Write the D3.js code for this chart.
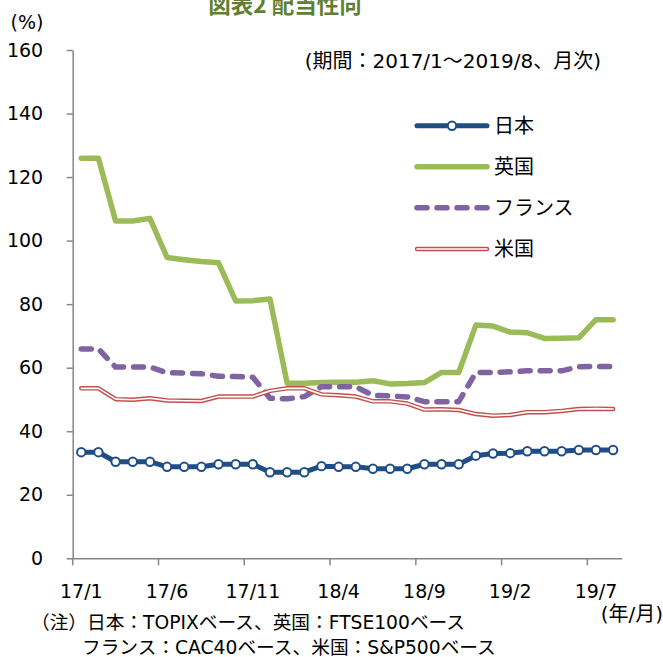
<!DOCTYPE html>
<html><head><meta charset="utf-8">
<script src="https://cdn.jsdelivr.net/npm/d3@7"></script>
<style>
body{margin:0;background:#fff}
svg{display:block}
text{font-family:"DejaVu Sans","Noto Sans CJK JP",sans-serif;fill:#000}
</style></head>
<body><svg id="c" width="663" height="657"></svg>
<script>
const categories = ["17/1","17/2","17/3","17/4","17/5","17/6","17/7","17/8","17/9","17/10","17/11","17/12",
"18/1","18/2","18/3","18/4","18/5","18/6","18/7","18/8","18/9","18/10","18/11","18/12",
"19/1","19/2","19/3","19/4","19/5","19/6","19/7","19/8"];
const tickLabels = ["17/1","17/6","17/11","18/4","18/9","19/2","19/7"];
const yTicks = [0,20,40,60,80,100,120,140,160];
const japan = [33.4,33.4,30.4,30.4,30.4,28.8,28.8,28.8,29.6,29.6,29.6,27.1,27.1,27.1,29.0,
28.8,28.8,28.2,28.2,28.2,29.6,29.6,29.6,32.3,33.0,33.1,33.7,33.7,33.7,34.1,34.1,34.1];
const uk = [125.9,125.9,106.2,106.2,107.0,94.7,94.0,93.4,93.0,81.0,81.1,81.6,55.1,55.1,55.3,55.4,
55.4,55.9,54.9,55.0,55.3,58.5,58.5,73.4,73.1,71.2,71.0,69.2,69.3,69.4,75.1,75.1];
const france = [65.9,65.9,60.2,60.2,60.2,58.4,58.3,58.1,57.3,57.2,57.0,50.4,50.2,50.9,54.0,54.0,
54.0,51.3,51.1,50.8,49.3,49.3,49.3,58.5,58.5,58.7,59.0,59.0,59.0,60.3,60.4,60.4];
const us = [53.5,53.5,50.1,49.9,50.4,49.7,49.6,49.5,50.9,50.9,50.9,52.7,53.5,53.5,51.6,51.3,
50.9,49.4,49.4,48.7,46.8,46.9,46.7,45.4,44.9,45.1,46.0,46.0,46.4,47.0,47.1,47.0];
const seriesNames = ["日本","英国","フランス","米国"];

const svg = d3.select("#c");
const x = d3.scaleBand().domain(categories).range([72.7,621.7]).padding(0);
const y = d3.scaleLinear().domain([0,160]).range([558.3,50]);
const bw = x.bandwidth();
const cx = (d,i)=>x(categories[i])+bw/2;
const axisColor = "#868686";

// title
svg.append("text").attr("x",285).attr("y",12.5).attr("text-anchor","middle")
  .style("font-size","22.5px").style("font-weight","bold").style("fill","#5f7f32")
  .style("font-family","'Noto Sans CJK JP',sans-serif").text("図表2 配当性向");
svg.append("text").attr("x",27).attr("y",29).attr("text-anchor","middle").style("font-size","19px").text("(%)");
svg.append("text").attr("x",601).attr("y",68).attr("text-anchor","end").style("font-size","20px")
  .text("(期間：2017/1～2019/8、月次)");

// y axis
const ya = svg.append("g").attr("transform","translate(72.7,0)")
  .call(d3.axisLeft(y).tickValues(yTicks).tickSize(6).tickSizeOuter(0).tickPadding(23.5));
ya.select(".domain").attr("stroke",axisColor).attr("stroke-width",1.5);
ya.selectAll(".tick line").attr("stroke",axisColor).attr("stroke-width",1.5);
ya.selectAll(".tick text").style("font-size","19px").style("font-family","'DejaVu Sans',sans-serif").attr("fill","#000");

// x axis
const xa = svg.append("g").attr("transform","translate(0,558.3)")
  .call(d3.axisBottom(x).tickValues(tickLabels).tickSize(7).tickSizeOuter(0).tickPadding(19));
xa.select(".domain").attr("stroke",axisColor).attr("stroke-width",1.5);
xa.selectAll(".tick line").attr("stroke",axisColor).attr("stroke-width",1.5).attr("x1",-bw/2).attr("x2",-bw/2);
xa.selectAll(".tick text").style("font-size","19px").style("font-family","'DejaVu Sans',sans-serif").attr("fill","#000");

const line = d3.line().x(cx).y(d=>y(d));
const g = svg.append("g");
// Japan
g.append("path").datum(japan).attr("d",line).attr("fill","none").attr("stroke","#1f4e86")
  .attr("stroke-width",5).attr("stroke-linejoin","round");
g.selectAll("circle.jp").data(japan).join("circle").attr("class","jp")
  .attr("cx",cx).attr("cy",d=>y(d)).attr("r",4.2).attr("fill","#fff").attr("stroke","#1f4e86").attr("stroke-width",2);
// UK
g.append("path").datum(uk).attr("d",line).attr("fill","none").attr("stroke","#9bbb59")
  .attr("stroke-width",5.5).attr("stroke-linejoin","round").attr("stroke-linecap","round");
// France
g.append("path").datum(france).attr("d",line).attr("fill","none").attr("stroke","#8064a2")
  .attr("stroke-width",5.5).attr("stroke-dasharray","10,10").attr("stroke-linecap","round").attr("stroke-linejoin","round");
// US
g.append("path").datum(us).attr("d",line).attr("fill","none").attr("stroke","#c0504d")
  .attr("stroke-width",4.5).attr("stroke-linejoin","round").attr("stroke-linecap","round");
g.append("path").datum(us).attr("d",line).attr("fill","none").attr("stroke","#fff")
  .attr("stroke-width",1.6).attr("stroke-linejoin","round").attr("stroke-linecap","round");

// legend
const ly = [125.7,166.7,207.7,249];
const lx0 = 417, lx1 = 487;
const lg = svg.append("g");
lg.append("line").attr("x1",lx0).attr("x2",lx1).attr("y1",ly[0]).attr("y2",ly[0]).attr("stroke","#1f4e86").attr("stroke-width",5).attr("stroke-linecap","round");
lg.append("circle").attr("cx",(lx0+lx1)/2).attr("cy",ly[0]).attr("r",4.2).attr("fill","#fff").attr("stroke","#1f4e86").attr("stroke-width",2);
lg.append("line").attr("x1",lx0).attr("x2",lx1).attr("y1",ly[1]).attr("y2",ly[1]).attr("stroke","#9bbb59").attr("stroke-width",5.5).attr("stroke-linecap","round");
lg.append("line").attr("x1",lx0).attr("x2",lx1).attr("y1",ly[2]).attr("y2",ly[2]).attr("stroke","#8064a2").attr("stroke-width",5.5).attr("stroke-dasharray","10,10").attr("stroke-linecap","round");
lg.append("line").attr("x1",lx0).attr("x2",lx1).attr("y1",ly[3]).attr("y2",ly[3]).attr("stroke","#c0504d").attr("stroke-width",4.5).attr("stroke-linecap","round");
lg.append("line").attr("x1",lx0).attr("x2",lx1).attr("y1",ly[3]).attr("y2",ly[3]).attr("stroke","#fff").attr("stroke-width",1.6).attr("stroke-linecap","round");
seriesNames.forEach((n,i)=>{
  lg.append("text").attr("x",494).attr("y",ly[i]).attr("dy","0.36em").style("font-size","20px")
    .style("font-family","'Noto Sans CJK JP',sans-serif").text(n);
});

// notes
svg.append("text").attr("x",663).attr("y",621).attr("text-anchor","end").style("font-size","20px").text("(年/月)");
svg.append("text").attr("x",31).attr("y",629).style("font-size","18.7px").text("（注）日本：TOPIXベース、英国：FTSE100ベース");
svg.append("text").attr("x",82).attr("y",654).style("font-size","18.7px").text("フランス：CAC40ベース、米国：S&P500ベース");
</script></body></html>
